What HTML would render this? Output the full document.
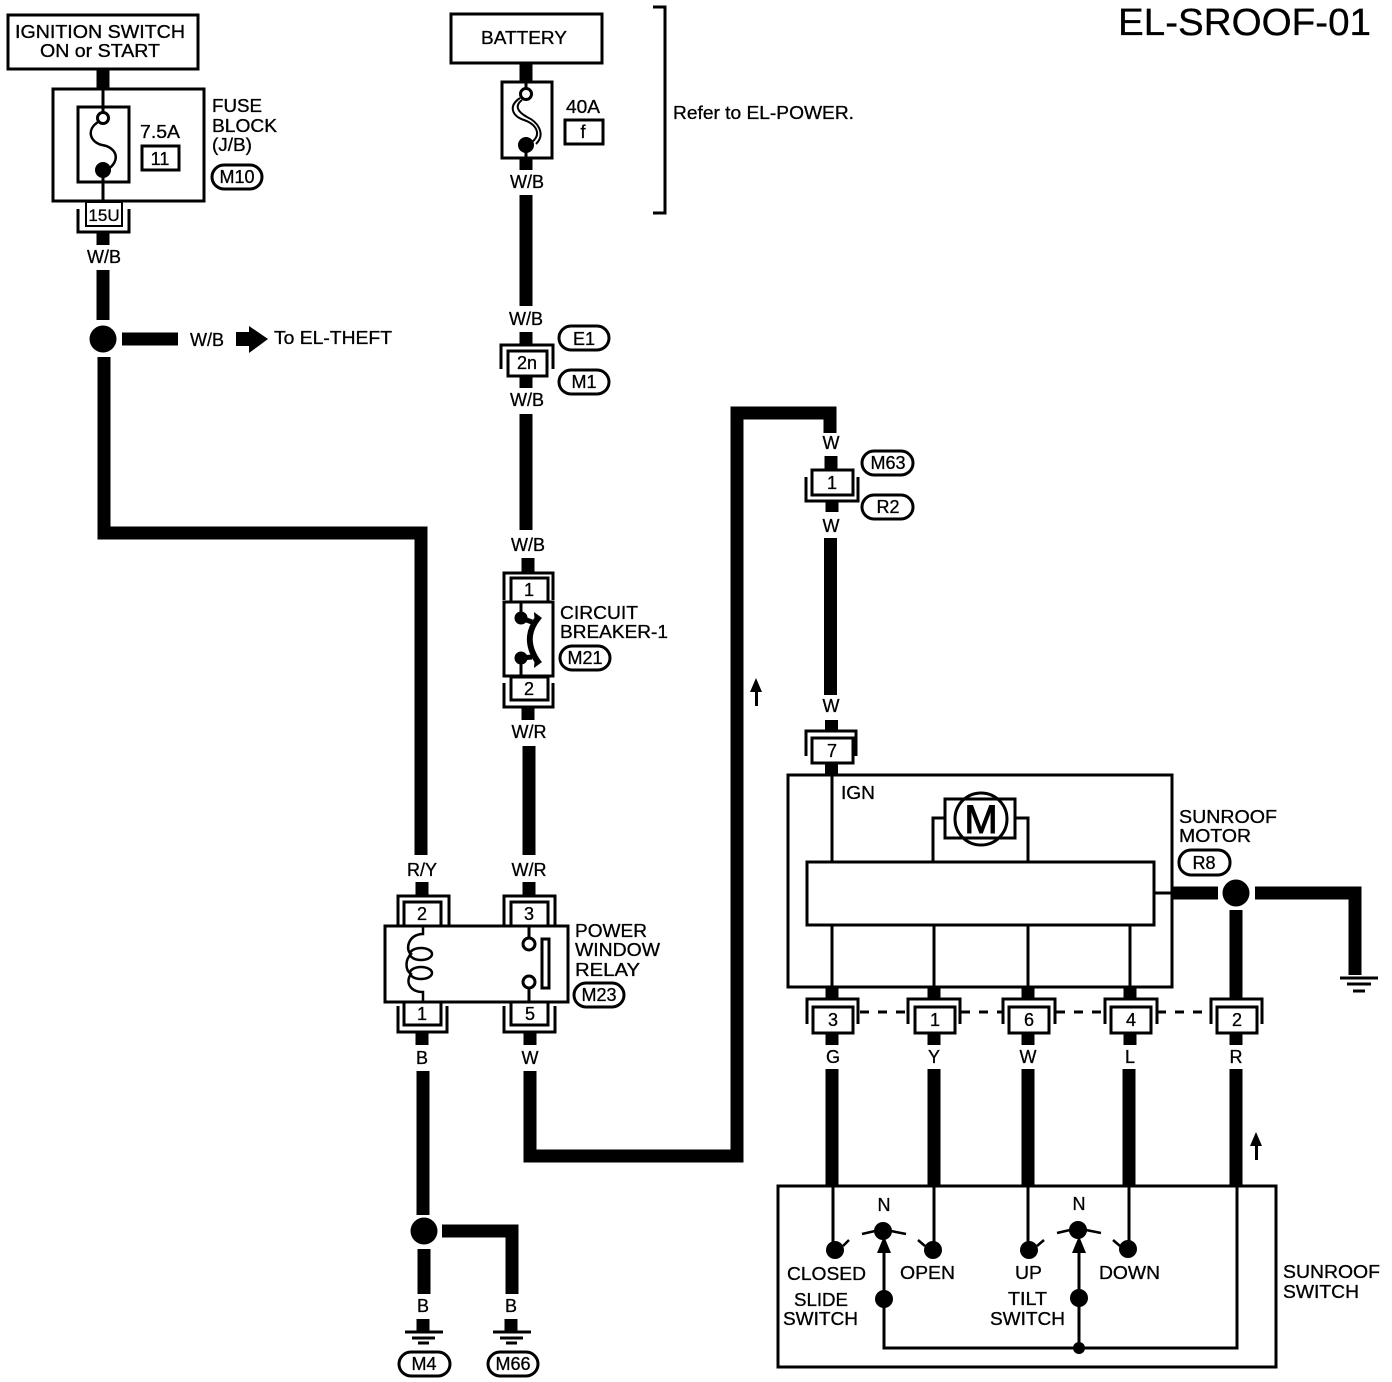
<!DOCTYPE html>
<html><head><meta charset="utf-8"><style>
html,body{margin:0;padding:0;background:#fff}
svg{display:block}
text{font-family:"Liberation Sans",sans-serif;font-size:18px;fill:#000;stroke:#000;stroke-width:.3}
.m{text-anchor:middle}
.t{fill:none;stroke:#000;stroke-width:3}
.h{fill:none;stroke:#000;stroke-width:13}
.f{fill:#000;stroke:none}
</style></head><body>
<svg width="1392" height="1382" viewBox="0 0 1392 1382" xmlns="http://www.w3.org/2000/svg">
<rect width="1392" height="1382" fill="#fff"/>
<text x="1118" y="35" style="font-size:38px" textLength="253" lengthAdjust="spacingAndGlyphs">EL-SROOF-01</text>

<!-- Thick wires -->
<g class="h">
<path d="M103 69V89M103 233V245M103 270V320M122 339H178M104 357V533H421V855M422 882V895M422 1032V1045M423 1071V1215M424 1249V1294M442 1231H512V1294M423 1319V1331M511 1319V1331"/>
<path d="M526 63V82M526 158V170M526 195V306M526 332V344M526 376V388M526 414V530M528 558V572M528 708V720M529 746V855M529 882V895M530 1032V1045"/>
<path d="M530 1071V1156H737V413H830V433M831 456V470M832 501V512M830.500 538V695M831.500 720V731M831.500 763V775"/>
<path d="M832 987V1000M934 987V1000M1028 987V1000M1130 987V1000M832 1032V1045M934 1032V1045M1028 1032V1045M1130 1032V1045M1236 1032V1045M832 1069V1186M934 1069V1186M1028 1069V1186M1129 1069V1186M1236 1069V1186"/>
<path d="M1172 893H1218M1236 910V998M1255 893H1355V975"/>
</g>

<!-- Ignition / fuse block -->
<rect class="t" x="8" y="15" width="190" height="54"/>
<text x="15" y="38" textLength="170" lengthAdjust="spacingAndGlyphs">IGNITION SWITCH</text>
<text x="40" y="57" textLength="120" lengthAdjust="spacingAndGlyphs">ON or START</text>
<rect class="t" x="53" y="89" width="151" height="112"/>
<rect class="t" x="78" y="107" width="51" height="75"/>
<path class="t" d="M103 89V112M103 176V201"/>
<circle class="t" cx="103" cy="118" r="5.500" fill="#fff"/>
<path d="M98 122C86 130 90 142 102 145C116 147 122 160 107 170" fill="none" stroke="#000" stroke-width="2.500"/>
<circle class="f" cx="103" cy="170" r="8"/>
<text x="140" y="138" textLength="40" lengthAdjust="spacingAndGlyphs">7.5A</text>
<rect class="t" x="142" y="146" width="37" height="24"/>
<text class="m" x="160" y="165">11</text>
<text x="212" y="112" textLength="50" lengthAdjust="spacingAndGlyphs">FUSE</text>
<text x="212" y="132" textLength="65" lengthAdjust="spacingAndGlyphs">BLOCK</text>
<text x="212" y="151" textLength="40" lengthAdjust="spacingAndGlyphs">(J/B)</text>
<rect class="t" x="212" y="165" width="50" height="24" rx="12"/>
<text class="m" x="237" y="183">M10</text>
<rect x="86" y="202" width="36" height="24" fill="#fff" stroke="#000" stroke-width="2"/>
<text class="m" x="104" y="221" style="font-size:17px">15U</text>
<path class="t" d="M78 209V232H129V209"/>
<text class="m" x="104" y="263">W/B</text>
<circle class="f" cx="103" cy="339" r="13.500"/>
<text class="m" x="207" y="346">W/B</text>
<path class="f" d="M236 332H249V326L268 339L249 353V346H236Z"/>
<text x="274" y="344" textLength="118" lengthAdjust="spacingAndGlyphs">To EL-THEFT</text>

<!-- Battery -->
<rect class="t" x="451" y="14" width="151" height="49"/>
<text x="481" y="44" textLength="86" lengthAdjust="spacingAndGlyphs">BATTERY</text>
<rect class="t" x="502" y="82" width="50" height="76"/>
<path class="t" d="M526 82V90M526 150V158"/>
<circle class="t" cx="526" cy="94" r="5.500" fill="#fff"/>
<path d="M520 98C508 106 512 116 524 120C536 124 542 134 532 142" fill="none" stroke="#000" stroke-width="2"/>
<path d="M522 100C514 106 518 112 527 117C538 122 546 134 536 144" fill="none" stroke="#000" stroke-width="2"/>
<circle class="f" cx="526" cy="145" r="8"/>
<text x="566" y="113" textLength="34" lengthAdjust="spacingAndGlyphs">40A</text>
<rect class="t" x="565" y="120" width="38" height="24"/>
<text class="m" x="583" y="138">f</text>
<text class="m" x="527" y="188">W/B</text>
<path class="t" d="M653 7H665V213H653"/>
<text x="673" y="119" textLength="181" lengthAdjust="spacingAndGlyphs">Refer to EL-POWER.</text>

<!-- 2n -->
<text class="m" x="526" y="325">W/B</text>
<rect class="t" x="559" y="326" width="50" height="24" rx="12"/>
<text class="m" x="584" y="345">E1</text>
<path class="t" d="M501 369V345H553V369"/>
<rect class="t" x="508" y="351" width="39" height="25" fill="#fff"/>
<text class="m" x="527" y="369">2n</text>
<rect class="t" x="559" y="370" width="50" height="24" rx="12"/>
<text class="m" x="584" y="388">M1</text>
<text class="m" x="527" y="406">W/B</text>

<!-- Circuit breaker -->
<text class="m" x="528" y="551">W/B</text>
<path class="t" d="M504 600V573H553V600"/>
<rect class="t" x="511" y="578" width="37" height="24" fill="#fff"/>
<text class="m" x="529" y="596">1</text>
<rect class="t" x="504" y="602" width="49" height="74"/>
<path class="t" d="M521 602V618M521 658V676"/>
<circle class="f" cx="521" cy="618" r="6.500"/>
<circle class="f" cx="521" cy="658" r="6.500"/>
<path d="M538 618C527 632 527 646 538 662" fill="none" stroke="#000" stroke-width="6"/>
<path d="M521 618L532 622M521 658L532 657" fill="none" stroke="#000" stroke-width="5"/>
<path class="f" d="M534 612L542 618L535 626ZM534 668L542 662L535 654Z"/>
<rect class="t" x="511" y="677" width="37" height="23" fill="#fff"/>
<text class="m" x="529" y="695">2</text>
<path class="t" d="M504 683V707H553V683"/>
<text class="m" x="529" y="738">W/R</text>
<text x="560" y="619" textLength="78" lengthAdjust="spacingAndGlyphs">CIRCUIT</text>
<text x="560" y="638" textLength="108" lengthAdjust="spacingAndGlyphs">BREAKER-1</text>
<rect class="t" x="560" y="646" width="50" height="24" rx="12"/>
<text class="m" x="585" y="664">M21</text>

<!-- Relay -->
<text class="m" x="422" y="876">R/Y</text>
<text class="m" x="529" y="876">W/R</text>
<path class="t" d="M398 925V896H449V925M504 925V896H555V925"/>
<rect class="t" x="404" y="902" width="37" height="24" fill="#fff"/>
<rect class="t" x="511" y="902" width="37" height="24" fill="#fff"/>
<text class="m" x="422" y="920">2</text>
<text class="m" x="529" y="920">3</text>
<rect class="t" x="385" y="926" width="183" height="76" fill="#fff"/>
<path d="M423 926V934C408 934 405 950 411 954C405 960 405 970 411 974C405 982 410 992 423 992V1002" fill="none" stroke="#000" stroke-width="2.500"/>
<ellipse class="t" cx="421" cy="954" rx="11" ry="6" style="stroke-width:2.500"/>
<ellipse class="t" cx="421" cy="973" rx="11" ry="6" style="stroke-width:2.500"/>
<path class="t" d="M529 926V938M529 988V1002"/>
<circle class="t" cx="529" cy="944" r="6"/>
<circle class="t" cx="529" cy="982" r="6"/>
<rect class="t" x="542" y="939" width="7" height="49"/>
<rect class="t" x="404" y="1002" width="37" height="23" fill="#fff"/>
<rect class="t" x="511" y="1002" width="37" height="23" fill="#fff"/>
<text class="m" x="422" y="1020">1</text>
<text class="m" x="530" y="1020">5</text>
<path class="t" d="M398 1006V1032H447V1006M504 1006V1032H555V1006"/>
<text x="575" y="937" textLength="72" lengthAdjust="spacingAndGlyphs">POWER</text>
<text x="575" y="956" textLength="85" lengthAdjust="spacingAndGlyphs">WINDOW</text>
<text x="575" y="976" textLength="65" lengthAdjust="spacingAndGlyphs">RELAY</text>
<rect class="t" x="574" y="983" width="50" height="24" rx="12"/>
<text class="m" x="599" y="1001">M23</text>
<text class="m" x="422" y="1064">B</text>
<text class="m" x="530" y="1064">W</text>

<!-- Grounds -->
<circle class="f" cx="424" cy="1231" r="13.500"/>
<text class="m" x="423" y="1312">B</text>
<text class="m" x="511" y="1312">B</text>
<path class="t" d="M405 1332H443M412 1338H435M418 1343H429M493 1332H531M500 1338H523M506 1343H517"/>
<rect class="t" x="399" y="1352" width="51" height="24" rx="12"/>
<rect class="t" x="488" y="1352" width="50" height="24" rx="12"/>
<text class="m" x="424" y="1370">M4</text>
<text class="m" x="513" y="1370">M66</text>

<!-- Direction arrows -->
<path class="f" d="M755 706V692H750L756 678L762 692H758V706Z"/>
<path class="f" d="M1255 1160V1146H1250L1256 1132L1262 1146H1258V1160Z"/>

<!-- M63 / R2 connector -->
<text class="m" x="831" y="449">W</text>
<rect class="t" x="862" y="451" width="51" height="24" rx="12"/>
<text class="m" x="888" y="469">M63</text>
<path class="t" d="M806 477V501H858V477"/>
<rect class="t" x="812" y="470" width="41" height="25" fill="#fff"/>
<text class="m" x="832" y="489">1</text>
<rect class="t" x="862" y="495" width="51" height="24" rx="12"/>
<text class="m" x="888" y="513">R2</text>
<text class="m" x="831" y="532">W</text>
<text class="m" x="831" y="712">W</text>
<path class="t" d="M806 756V731H856V756"/>
<rect class="t" x="812" y="738" width="41" height="25" fill="#fff"/>
<text class="m" x="832" y="757">7</text>

<!-- Sunroof motor -->
<rect class="t" x="788" y="775" width="384" height="212"/>
<path class="t" d="M832 775V862M933 862V818H945M1028 862V818H1015M832 925V987M934 925V987M1028 925V987M1130 925V987M1154 893H1172"/>
<rect class="t" x="945" y="799" width="70" height="39" fill="#fff"/>
<circle class="t" cx="981" cy="819" r="26" fill="#fff"/>
<text class="m" x="981" y="833" style="font-size:40px;stroke-width:1">M</text>
<text x="841" y="799" textLength="34" lengthAdjust="spacingAndGlyphs">IGN</text>
<rect class="t" x="807" y="862" width="347" height="63" fill="#fff"/>
<text x="1179" y="823" textLength="98" lengthAdjust="spacingAndGlyphs">SUNROOF</text>
<text x="1179" y="842" textLength="72" lengthAdjust="spacingAndGlyphs">MOTOR</text>
<rect class="t" x="1179" y="850" width="51" height="25" rx="12"/>
<text class="m" x="1204" y="869">R8</text>
<circle class="f" cx="1236" cy="893" r="13.500"/>
<path class="t" d="M1340 978H1378M1347 984H1371M1353 991H1365"/>

<!-- Bottom connectors -->
<path d="M860 1012H905M961 1012H1002M1056 1012H1104M1157 1012H1210" fill="none" stroke="#000" stroke-width="3" stroke-dasharray="9 9"/>
<path class="t" d="M807 1024V999H858V1024M908 1024V999H960V1024M1003 1024V999H1055V1024M1105 1024V999H1157V1024M1211 1024V999H1262V1024"/>
<rect class="t" x="813" y="1007" width="40" height="26" fill="#fff"/>
<rect class="t" x="915" y="1007" width="40" height="26" fill="#fff"/>
<rect class="t" x="1009" y="1007" width="40" height="26" fill="#fff"/>
<rect class="t" x="1111" y="1007" width="40" height="26" fill="#fff"/>
<rect class="t" x="1217" y="1007" width="40" height="26" fill="#fff"/>
<text class="m" x="833" y="1026">3</text>
<text class="m" x="935" y="1026">1</text>
<text class="m" x="1029" y="1026">6</text>
<text class="m" x="1131" y="1026">4</text>
<text class="m" x="1237" y="1026">2</text>
<text class="m" x="833" y="1063">G</text>
<text class="m" x="934" y="1063">Y</text>
<text class="m" x="1028" y="1063">W</text>
<text class="m" x="1130" y="1063">L</text>
<text class="m" x="1236" y="1063">R</text>

<!-- Sunroof switch -->
<rect class="t" x="778" y="1186" width="498" height="181"/>
<path class="t" d="M833 1186V1245M934 1186V1245M1028 1186V1245M1129 1186V1245M1237 1186V1348H884V1245M1079 1245V1348"/>
<g class="f">
<circle cx="835" cy="1250" r="9"/><circle cx="933" cy="1250" r="9"/>
<circle cx="1029" cy="1250" r="9"/><circle cx="1128" cy="1249" r="9"/>
<circle cx="883" cy="1231" r="9"/><circle cx="1078" cy="1230" r="9"/>
<circle cx="884" cy="1299" r="9"/><circle cx="1079" cy="1298" r="9"/>
<circle cx="1079" cy="1348" r="6"/>
<path d="M884 1236L891 1253H877Z"/><path d="M1079 1236L1086 1253H1072Z"/>
</g>
<path class="t" d="M862 1234L875 1231M891 1231L906 1234M1057 1233L1070 1230M1086 1230L1101 1233M843 1246L849 1240M925 1246L918 1240M1037 1246L1044 1240M1120 1246L1113 1240" style="stroke-width:2.500"/>
<text class="m" x="884" y="1211">N</text>
<text class="m" x="1079" y="1210">N</text>
<text x="787" y="1280" textLength="79" lengthAdjust="spacingAndGlyphs">CLOSED</text>
<text x="900" y="1279" textLength="55" lengthAdjust="spacingAndGlyphs">OPEN</text>
<text x="1015" y="1279" textLength="27" lengthAdjust="spacingAndGlyphs">UP</text>
<text x="1099" y="1279" textLength="61" lengthAdjust="spacingAndGlyphs">DOWN</text>
<text x="794" y="1306" textLength="54" lengthAdjust="spacingAndGlyphs">SLIDE</text>
<text x="783" y="1325" textLength="75" lengthAdjust="spacingAndGlyphs">SWITCH</text>
<text x="1008" y="1305" textLength="39" lengthAdjust="spacingAndGlyphs">TILT</text>
<text x="990" y="1325" textLength="75" lengthAdjust="spacingAndGlyphs">SWITCH</text>
<text x="1283" y="1278" textLength="97" lengthAdjust="spacingAndGlyphs">SUNROOF</text>
<text x="1283" y="1298" textLength="76" lengthAdjust="spacingAndGlyphs">SWITCH</text>
</svg>
</body></html>
